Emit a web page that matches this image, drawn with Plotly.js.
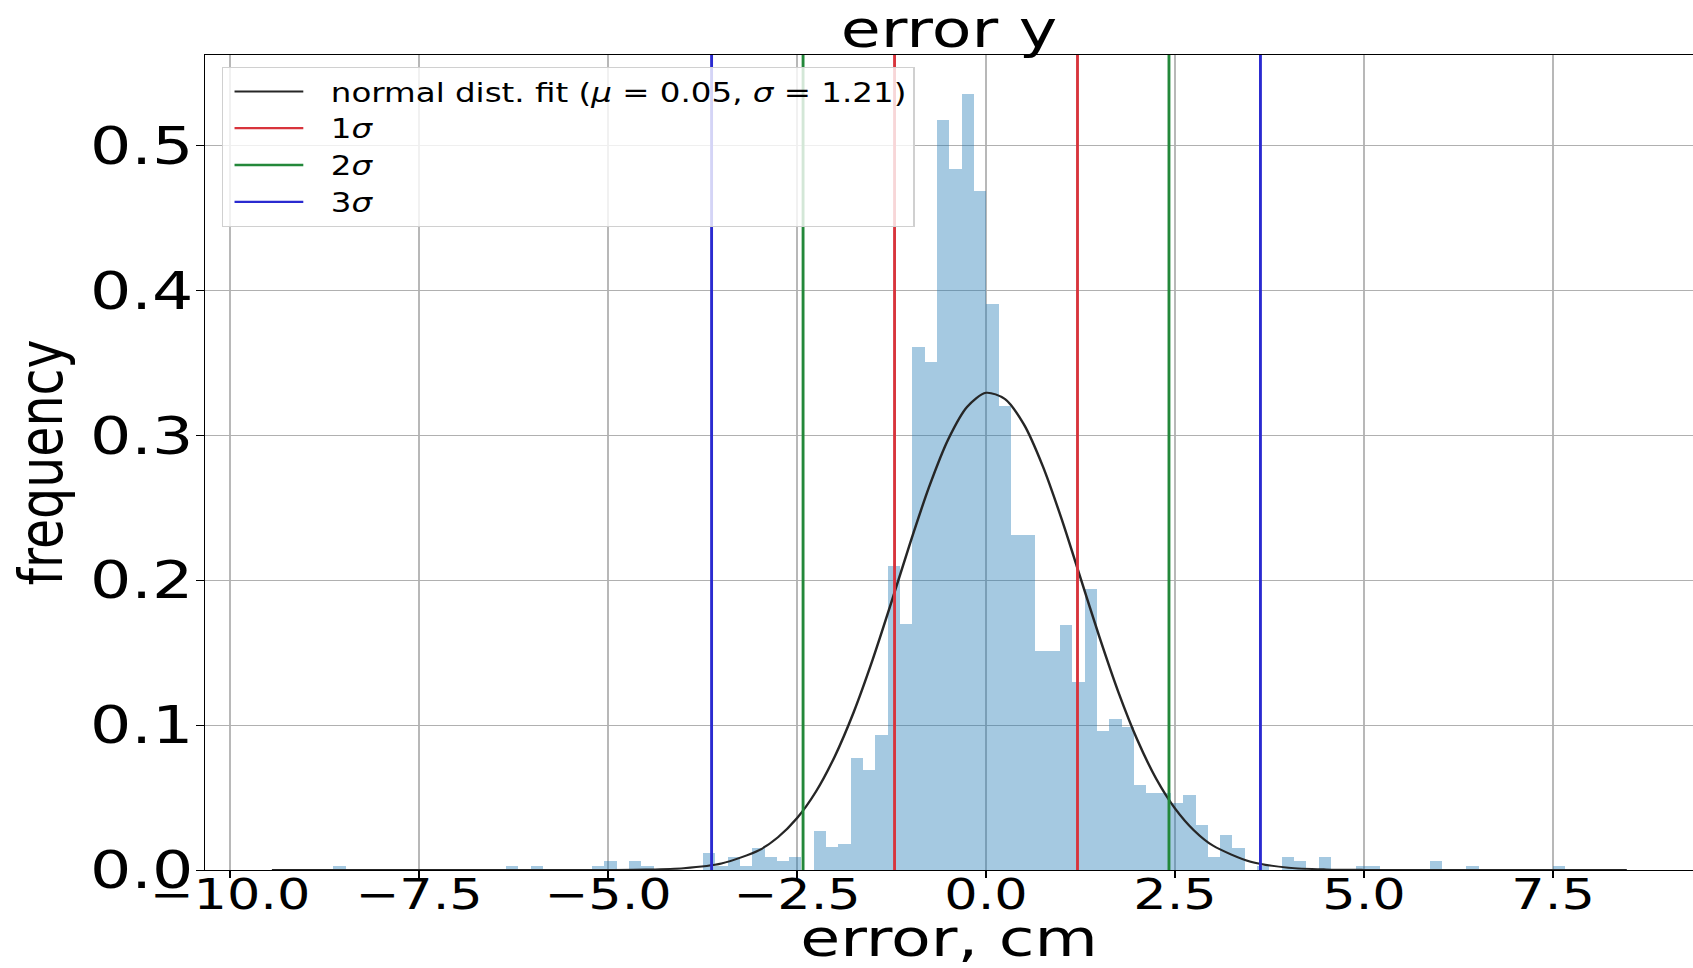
<!DOCTYPE html>
<html><head><meta charset="utf-8">
<script src="https://cdn.plot.ly/plotly-3.0.1.min.js"></script>
<style>
html,body{margin:0;padding:0;overflow:hidden;background:#fff;width:1693px;height:968px;}
#chart{width:1354px;height:968px;transform:scaleX(1.2504);transform-origin:0 0;}
</style></head><body><div id="chart"></div>
<script>
// ---- data ----
const BIN_START = -9.446;   // left edge of the first histogram bin (error, cm)
const BIN_WIDTH = 0.1629;   // width of each bin (110 bins)
const FREQUENCY = [
  0, 0, 0, 0, 0, 0.003, 0, 0, 0, 0,
  0, 0, 0, 0, 0, 0, 0, 0, 0, 0.003,
  0, 0.003, 0, 0, 0, 0, 0.003, 0.006, 0, 0.006,
  0.003, 0, 0, 0, 0, 0.012, 0.003, 0.009, 0.003, 0.015,
  0.009, 0.006, 0.009, 0, 0.027, 0.016, 0.018, 0.077, 0.069, 0.093,
  0.210, 0.170, 0.361, 0.351, 0.518, 0.484, 0.536, 0.469, 0.391, 0.320,
  0.231, 0.231, 0.151, 0.151, 0.169, 0.130, 0.194, 0.096, 0.104, 0.099,
  0.059, 0.053, 0.053, 0.046, 0.052, 0.031, 0.009, 0.024, 0.015, 0,
  0.003, 0, 0.009, 0.006, 0, 0.009, 0, 0, 0.003, 0.003,
  0, 0, 0, 0, 0.006, 0, 0, 0.003, 0, 0,
  0, 0, 0, 0, 0.003, 0, 0, 0, 0, 0
];
// normal distribution fit curve
const FIT_X = [-9.446, -6, -5, -4.5, -4, -3.5, -3, -2.75, -2.5, -2.25, -2, -1.75, -1.5, -1.25, -1, -0.75, -0.5, -0.25,
               0, 0.25, 0.5, 0.75, 1, 1.25, 1.5, 1.75, 2, 2.25, 2.5, 2.75, 3, 3.5, 4, 4.5, 5, 6, 8.476];
const FIT_Y = [0, 0, 0.00005, 0.00028, 0.00122, 0.00445, 0.01375, 0.0227, 0.0358, 0.0541, 0.0785, 0.1090, 0.1451, 0.1851, 0.2263, 0.2649, 0.2973, 0.3197,
               0.3294, 0.3252, 0.3077, 0.2789, 0.2423, 0.2016, 0.1608, 0.1229, 0.0900, 0.0631, 0.0425, 0.0274, 0.0169, 0.0057, 0.0016, 0.0004, 0.00008, 0, 0];
const FIT_NAME = 'normal dist. fit (<i>μ</i> = 0.05, <i>σ</i> = 1.21)';
const SIGMA_LINES = [1.21, 2.42, 3.63];
const SIGMA_NAMES = ['1<i>σ</i>', '2<i>σ</i>', '3<i>σ</i>'];
const SIGMA_COLORS = ['#d8343c', '#23883a', '#2a2ad0'];
const X_RANGE = [-10.33, 9.352];
const Y_RANGE = [0, 0.5626];
const X_TICKS = [-10, -7.5, -5, -2.5, 0, 2.5, 5, 7.5];
const X_TICK_LABELS = ['−10.0', '−7.5', '−5.0', '−2.5', '0.0', '2.5', '5.0', '7.5'];
const Y_TICKS = [0, 0.1, 0.2, 0.3, 0.4, 0.5];
const Y_TICK_LABELS = ['0.0', '0.1', '0.2', '0.3', '0.4', '0.5'];

const FONT = 'DejaVu Sans, sans-serif';
const binCenters = FREQUENCY.map((_, i) => BIN_START + (i + 0.5) * BIN_WIDTH);

const traces = [{
  type: 'bar', x: binCenters, y: FREQUENCY, width: BIN_WIDTH,
  marker: {color: 'rgba(31,119,180,0.4)', line: {width: 0}},
  showlegend: false, hoverinfo: 'x+y'
}, {
  type: 'scatter', mode: 'lines', x: FIT_X, y: FIT_Y, name: FIT_NAME,
  line: {color: '#262626', width: 2, shape: 'spline', smoothing: 0.8}
}];
SIGMA_LINES.forEach((s, k) => {
  traces.push({
    type: 'scatter', mode: 'lines', name: SIGMA_NAMES[k],
    x: [-s, -s, null, s, s], y: [Y_RANGE[0], Y_RANGE[1], null, Y_RANGE[0], Y_RANGE[1]],
    line: {color: SIGMA_COLORS[k], width: 2.3}
  });
});

const layout = {
  width: 1354, height: 968,
  margin: {l: 164, r: 0, t: 55, b: 98},
  paper_bgcolor: '#fff', plot_bgcolor: '#fff',
  font: {family: FONT, color: '#000'},
  bargap: 0,
  title: {text: 'error y', font: {family: FONT, size: 52, color: '#000'},
          x: 0.5, xref: 'paper', xanchor: 'center', y: 0.9705, yref: 'container', yanchor: 'middle'},
  xaxis: {
    range: X_RANGE, tickvals: X_TICKS, ticktext: X_TICK_LABELS,
    tickfont: {family: FONT, size: 42, color: '#000'},
    ticks: 'outside', ticklen: 7, tickwidth: 1, tickcolor: '#000', ticklabelstandoff: -19,
    showgrid: true, gridcolor: '#b8b8b8', gridwidth: 1, zeroline: false,
    showline: true, linecolor: '#000', linewidth: 1, mirror: true,
    title: {text: 'error, cm', font: {family: FONT, size: 52, color: '#000'}, standoff: 34},
    automargin: false
  },
  yaxis: {
    range: Y_RANGE, tickvals: Y_TICKS, ticktext: Y_TICK_LABELS,
    tickfont: {family: FONT, size: 52, color: '#000'},
    ticks: 'outside', ticklen: 6, tickwidth: 1, tickcolor: '#000', ticklabelstandoff: -8,
    showgrid: true, gridcolor: '#b0b0b0', gridwidth: 1, zeroline: false,
    showline: true, linecolor: '#000', linewidth: 1,
    title: {text: 'frequency', font: {family: FONT, size: 49, color: '#000'}, standoff: 6},
    automargin: false
  },
  legend: {
    x: 0.0114, y: 0.9853, xanchor: 'left', yanchor: 'top',
    bgcolor: 'rgba(255,255,255,0.8)', bordercolor: '#d0d0d0', borderwidth: 1,
    font: {family: FONT, size: 26, color: '#000'},
    itemwidth: 76, traceorder: 'normal'
  },
  showlegend: true
};

function longLegendLines() {
  document.querySelectorAll('#chart .legendlines path').forEach(p => p.setAttribute('d', 'M9,0h55'));
}
Plotly.newPlot('chart', traces, layout, {displayModeBar: false, staticPlot: true}).then(() => {
  longLegendLines();
  setTimeout(longLegendLines, 200);
  setTimeout(longLegendLines, 800);
});
</script></body></html>
